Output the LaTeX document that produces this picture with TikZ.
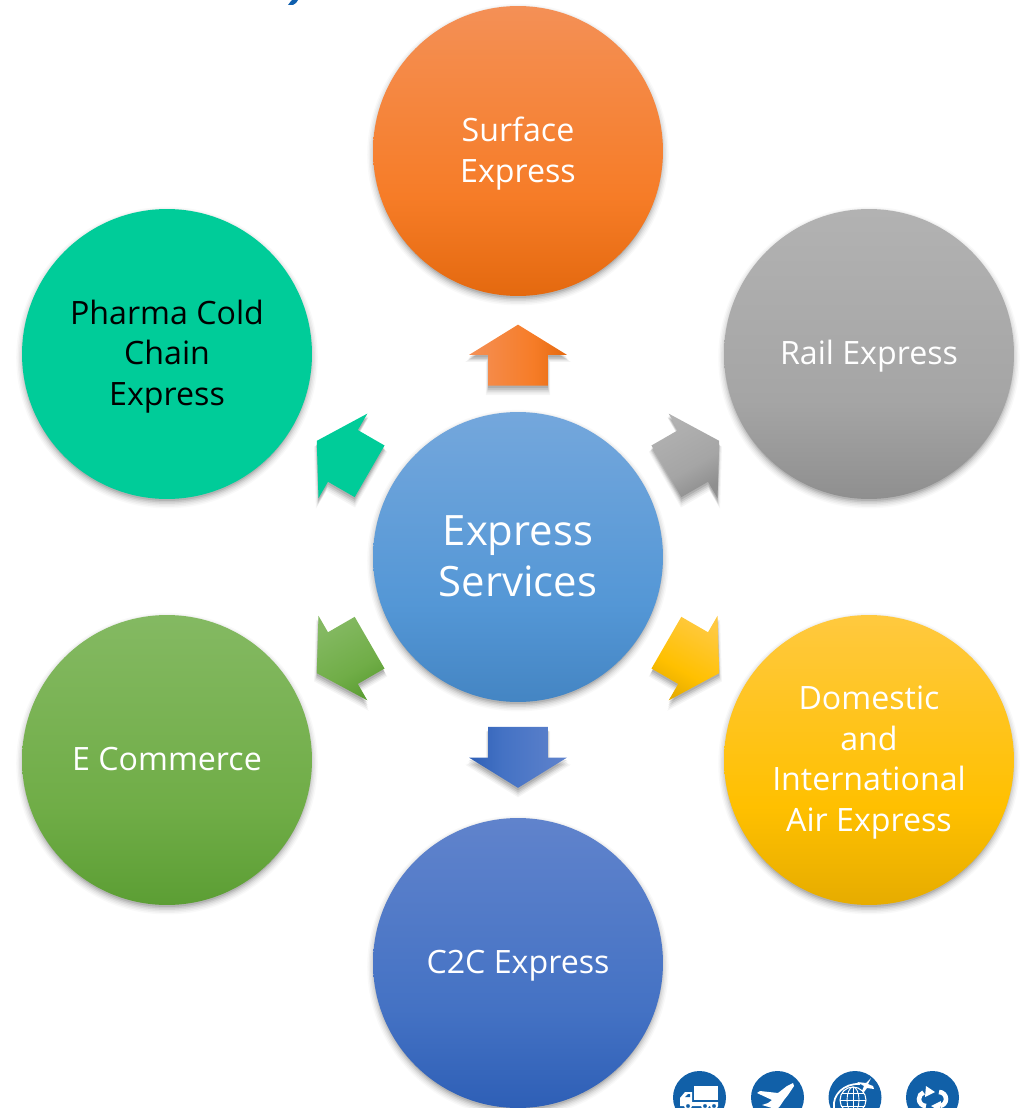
\documentclass[tikz,border=0pt]{standalone}
\usepackage{fontspec}
\setmainfont{Open Sans}
\usetikzlibrary{calc,shadows,shapes.arrows}
\definecolor{iconblue}{HTML}{1160A8}
\definecolor{titleblue}{HTML}{0F5FAE}
\definecolor{pharmateal}{HTML}{00CC99}
% face: bottom, base colour a third of the way up, top
\newcommand{\declareface}[4]{%
  \definecolor{#1bot}{HTML}{#2}\definecolor{#1mid}{HTML}{#3}\definecolor{#1top}{HTML}{#4}%
  \pgfdeclareverticalshading{#1}{100bp}{color(0bp)=(#1bot); color(25bp)=(#1bot); color(42bp)=(#1mid); color(75bp)=(#1top); color(100bp)=(#1top)}}
\declareface{hubface}{4485C3}{5497D6}{74A7DC}
\declareface{surfaceface}{E4690F}{F67C27}{F49056}
\declareface{railface}{8F8F8F}{A5A5A5}{B2B2B2}
\declareface{airface}{E6AC00}{FFC000}{FFC93F}
\declareface{ctocface}{2E5FB6}{4472C4}{6083CC}
\declareface{ecomface}{5C9E34}{70AD47}{84B962}
\tikzset{
softcircle/.style={general shadow={fill=black,opacity=.025,shadow scale=1.04,shadow yshift=-.07cm},
  general shadow={fill=black,opacity=.035,shadow scale=1.03,shadow yshift=-.07cm},
  general shadow={fill=black,opacity=.045,shadow scale=1.02,shadow yshift=-.07cm},
  general shadow={fill=black,opacity=.06,shadow scale=1.01,shadow yshift=-.07cm},
  general shadow={fill=black,opacity=.08,shadow scale=1,shadow yshift=-.07cm},
  general shadow={fill=black,opacity=.1,shadow scale=.99,shadow yshift=-.07cm}},
softarrow/.style={general shadow={fill=black,opacity=.04,shadow scale=1.08,shadow yshift=-.13cm},
  general shadow={fill=black,opacity=.05,shadow scale=1.05,shadow yshift=-.12cm},
  general shadow={fill=black,opacity=.07,shadow scale=1.03,shadow yshift=-.1cm},
  general shadow={fill=black,opacity=.09,shadow scale=1.015,shadow yshift=-.08cm},
  general shadow={fill=black,opacity=.11,shadow scale=1,shadow yshift=-.05cm}},
bigcircle/.style={circle,minimum size=5.8cm,inner sep=0pt,align=center,text=white,softcircle,
  text depth=1.6pt,font=\fontsize{18.3}{23}\selectfont},
blockarrow/.style={single arrow,minimum height=1.22cm,minimum width=1.94cm,inner sep=0pt,
  text height=.59cm,text depth=.59cm,
  single arrow head extend=.38cm,single arrow tip angle=116.6,single arrow head indent=0cm,
  anchor=tail,softarrow},
}
\begin{document}
\begin{tikzpicture}[x=0.02cm,y=0.02cm]
\useasboundingbox (0,0) rectangle (1025,-1108);
\clip (0,0) rectangle (1025,-1108);
% title fragment
\fill [titleblue] (288,-5) -- (291,-1) -- (292,0) -- (298,0) -- (296,-3) -- (293,-5) -- cycle;
% circles
\node [bigcircle,shade,shading=hubface,font=\fontsize{23.8}{29}\selectfont] (hub) at (518,-557) {Express\\Services};
\node [bigcircle,shade,shading=surfaceface] (surface) at (518,-151) {Surface\\Express};
\node [bigcircle,shade,shading=railface] (rail) at (869,-354) {Rail Express};
\node [bigcircle,shade,shading=airface] (air) at (869,-760) {Domestic\\and\\International\\Air Express};
\node [bigcircle,shade,shading=ctocface] (ctoc) at (518,-963) {C2C Express};
\node [bigcircle,shade,shading=ecomface] (ecom) at (167,-760) {E Commerce};
\node [bigcircle,fill=pharmateal,text=black] (pharma) at (167,-354) {Pharma Cold\\Chain\\Express};
% arrows out of the hub
\node [blockarrow,rotate=90,shade,shading=surfaceface,shading angle=90] (tosurface) at ($(hub)+(90:171)$) {};
\node [blockarrow,rotate=30,shade,shading=railface,shading angle=30] (torail) at ($(hub)+(30:171)$) {};
\node [blockarrow,rotate=-30,shade,shading=airface,shading angle=-30] (toair) at ($(hub)+(-30:171)$) {};
\node [blockarrow,rotate=-90,shade,shading=ctocface,shading angle=-90] (toctoc) at ($(hub)+(-90:169.5)$) {};
\node [blockarrow,rotate=-150,shade,shading=ecomface,shading angle=30] (toecom) at ($(hub)+(-150:171)$) {};
\node [blockarrow,rotate=150,fill=pharmateal] (topharma) at ($(hub)+(150:171)$) {};
% icons
\fill [iconblue] (699.5,-1097.5) circle (26.5);
\fill [iconblue] (777.5,-1097.5) circle (26.5);
\fill [iconblue] (855,-1097.5) circle (26.5);
\fill [iconblue] (932.5,-1097.5) circle (26.5);
% truck
\fill [white] (694,-1086) rectangle (718,-1100);
\fill [white] (680,-1104) -- (680,-1098) -- (685,-1092) -- (692,-1092) -- (692,-1102) -- (718,-1102) -- (718,-1106) -- (680,-1106) -- cycle;
\fill [iconblue] (685,-1097) -- (688,-1094) -- (690,-1094) -- (690,-1097) -- cycle;
\draw [white,fill=iconblue,line width=1pt] (688,-1106) circle (3);
\draw [white,fill=iconblue,line width=1pt] (705,-1106) circle (3);
\draw [white,fill=iconblue,line width=1pt] (714,-1106) circle (3);
% plane
\fill [white] (793,-1083) -- (794,-1086) -- (788,-1095) -- (784,-1100) -- (780,-1106) -- (778,-1108) -- (772,-1108) -- (762,-1105) -- (768,-1103) -- (772,-1100) -- (757,-1093) -- (760,-1091) -- (778,-1093) -- (787,-1086) -- cycle;
% globe
\draw [white,line width=.6pt] (853,-1100) circle (13);
\draw [white,line width=.5pt] (853,-1087) -- (853,-1108) (840,-1100) -- (866,-1100) (842,-1093) -- (864,-1093) (841,-1106) -- (865,-1106);
\draw [white,line width=.5pt] (853,-1100) ellipse (6 and 13);
\draw [white,line width=1pt] (834,-1108) .. controls (832,-1095) and (844,-1083) .. (860,-1084);
\fill [white] (871,-1078) -- (868,-1084) -- (873,-1086) -- (874,-1089) -- (867,-1088) -- (864,-1092) -- (862,-1091) -- (864,-1086) -- (857,-1082) -- (866,-1083) -- cycle;
% swap arrows
\draw [white,line width=2.6pt] (926,-1106) arc (-90:-250:7);
\fill [white] (926,-1086) -- (935,-1092) -- (925,-1097) -- cycle;
\draw [white,line width=2.6pt] (939,-1092) arc (90:-80:7);
\fill [white] (940,-1111) -- (931,-1106) -- (941,-1101) -- cycle;
\end{tikzpicture}
\end{document}
